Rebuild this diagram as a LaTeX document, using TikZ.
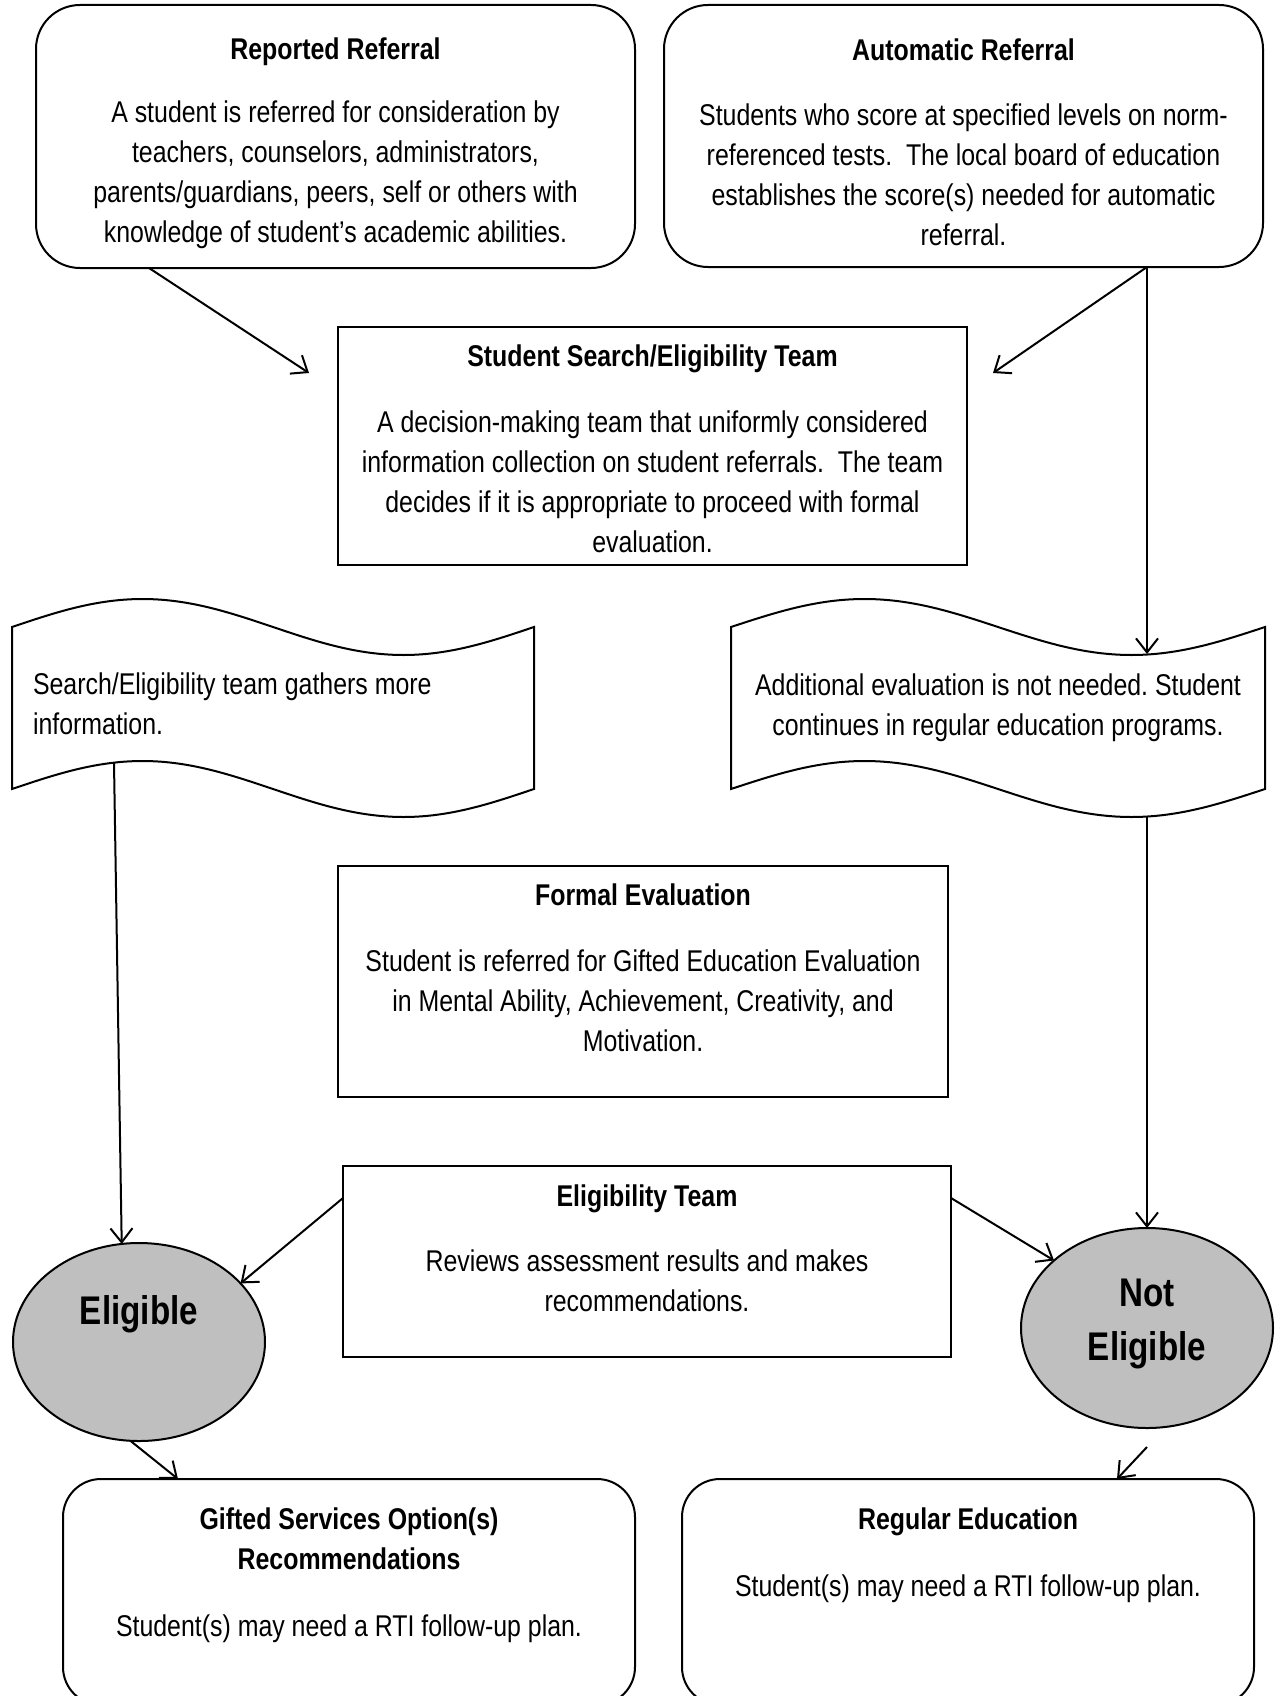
\documentclass[tikz,border=0pt]{standalone}
\usepackage{fontspec}
\setmainfont{Liberation Sans}[FakeStretch=0.83]
\usetikzlibrary{positioning,shapes.geometric,arrows.meta}
\definecolor{ellgray}{RGB}{191,191,191}
\frenchspacing

\begin{document}
\begin{tikzpicture}[x=1pt,y=-1pt,line width=2pt,
    box/.style={draw,outer sep=0pt,inner sep=0pt},
    rbox/.style={box,rounded corners=#1},
    ell/.style={box,ellipse,fill=ellgray,minimum width=252pt,minimum height=198pt},
    txt/.style={align=center,inner sep=0pt,font=\fontsize{30}{40}\selectfont},
    bigtxt/.style={txt,font=\fontsize{40}{54}\selectfont\bfseries},
    arr/.style={-{Straight Barb[length=14pt,width=22pt]}}]
    \useasboundingbox (0,0) rectangle (1278,1696);
    \clip (0,0) rectangle (1278,1696);

    \node[rbox=44pt,minimum width=599pt,minimum height=263pt] (rep) at (335.5,136.5) {};
    \node[rbox=44pt,minimum width=599pt,minimum height=262pt] (auto) at (963.5,136) {};
    \node[box,minimum width=629pt,minimum height=238pt] (search) at (652.5,446) {};
    \node[box,minimum width=610pt,minimum height=231pt] (formal) at (643,981.5) {};
    \node[box,minimum width=608pt,minimum height=191pt] (elteam) at (647,1261.5) {};
    \node[rbox=38pt,minimum width=572pt,minimum height=226pt] (gift) at (349,1592) {};
    \node[rbox=38pt,minimum width=572pt,minimum height=226pt] (reg) at (968,1592) {};
    \node[ell] (elig) at (139,1342) {};
    \node[ell,minimum height=200pt] (nelig) at (1147,1328) {};

    \draw (12,627) sin (142.5,599) cos (273,627) sin (403.5,655) cos (534,627) -- (534,789)
        sin (403.5,817) cos (273,789) sin (142.5,761) cos (12,789) -- cycle;
    \draw (731,627) sin (864.5,599) cos (998,627) sin (1131.5,655) cos (1265,627) -- (1265,789)
        sin (1131.5,817) cos (998,789) sin (864.5,761) cos (731,789) -- cycle;
    \coordinate (gatherout) at (114,763);
    \coordinate (addin) at (1147,654);
    \coordinate (addout) at (1147,817);

    \node[txt,below=32pt of rep.north] (reptxt) {\textbf{Reported Referral}\\[23pt]
        A student is referred for consideration by\\
        teachers, counselors, administrators,\\
        parents/guardians, peers, self or others with\\
        knowledge of student’s academic abilities.};
    \node[txt,below=33pt of auto.north] (autotxt) {\textbf{Automatic Referral}\\[25pt]
        Students who score at specified levels on norm-\\
        referenced tests.\ \ The local board of education\\
        establishes the score(s) needed for automatic\\
        referral.};
    \node[txt,below=17pt of search.north] (searchtxt) {\textbf{Student Search/Eligibility Team}\\[26pt]
        A decision-making team that uniformly considered\\
        information collection on student referrals.\ \ The team\\
        decides if it is appropriate to proceed with formal\\
        evaluation.};
    \node[txt,align=left,anchor=north west] (gather) at (32,672) {Search/Eligibility team gathers more\\
        information.};
    \node[txt,anchor=north] (addtxt) at (998,673) {Additional evaluation is not needed. Student\\
        continues in regular education programs.};
    \node[txt,below=17pt of formal.north] (formaltxt) {\textbf{Formal Evaluation}\\[26pt]
        Student is referred for Gifted Education Evaluation\\
        in Mental Ability, Achievement, Creativity, and\\
        Motivation.};
    \node[txt,below=18pt of elteam.north] (elteamtxt) {\textbf{Eligibility Team}\\[25pt]
        Reviews assessment results and makes\\
        recommendations.};
    \node[txt,below=28pt of gift.north] (gifttxt) {\textbf{Gifted Services Option(s)}\\
        \textbf{Recommendations}\\[27pt]
        Student(s) may need a RTI follow-up plan.};
    \node[txt,below=28pt of reg.north] (regtxt) {\textbf{Regular Education}\\[27pt]
        Student(s) may need a RTI follow-up plan.};
    \node[bigtxt] (eligtxt) at ([yshift=28pt]elig.center) {Eligible};
    \node[bigtxt] (neligtxt) at ([yshift=4pt]nelig.center) {Not\\Eligible};

    \draw[arr] ([xshift=113pt]rep.south west) -- ([xshift=-29pt,yshift=-46pt]search.north west);
    \draw[arr] ([xshift=-116pt]auto.south east) -- ([xshift=26pt,yshift=-46pt]search.north east);
    \draw[arr] ([xshift=-116pt]auto.south east) -- (addin);
    \draw[arr] (addout) -- (nelig.north);
    \draw[arr] (gatherout) -- (elig.100);
    \draw[arr] ([yshift=-32pt]elteam.north west) -- (elig.30);
    \draw[arr] ([yshift=-32pt]elteam.north east) -- (nelig.144);
    \draw[arr] (elig.265) -- ([xshift=115pt]gift.north west);
    \draw[arr] ([yshift=-19pt]nelig.south) -- ([xshift=435pt]reg.north west);
\end{tikzpicture}
\end{document}
